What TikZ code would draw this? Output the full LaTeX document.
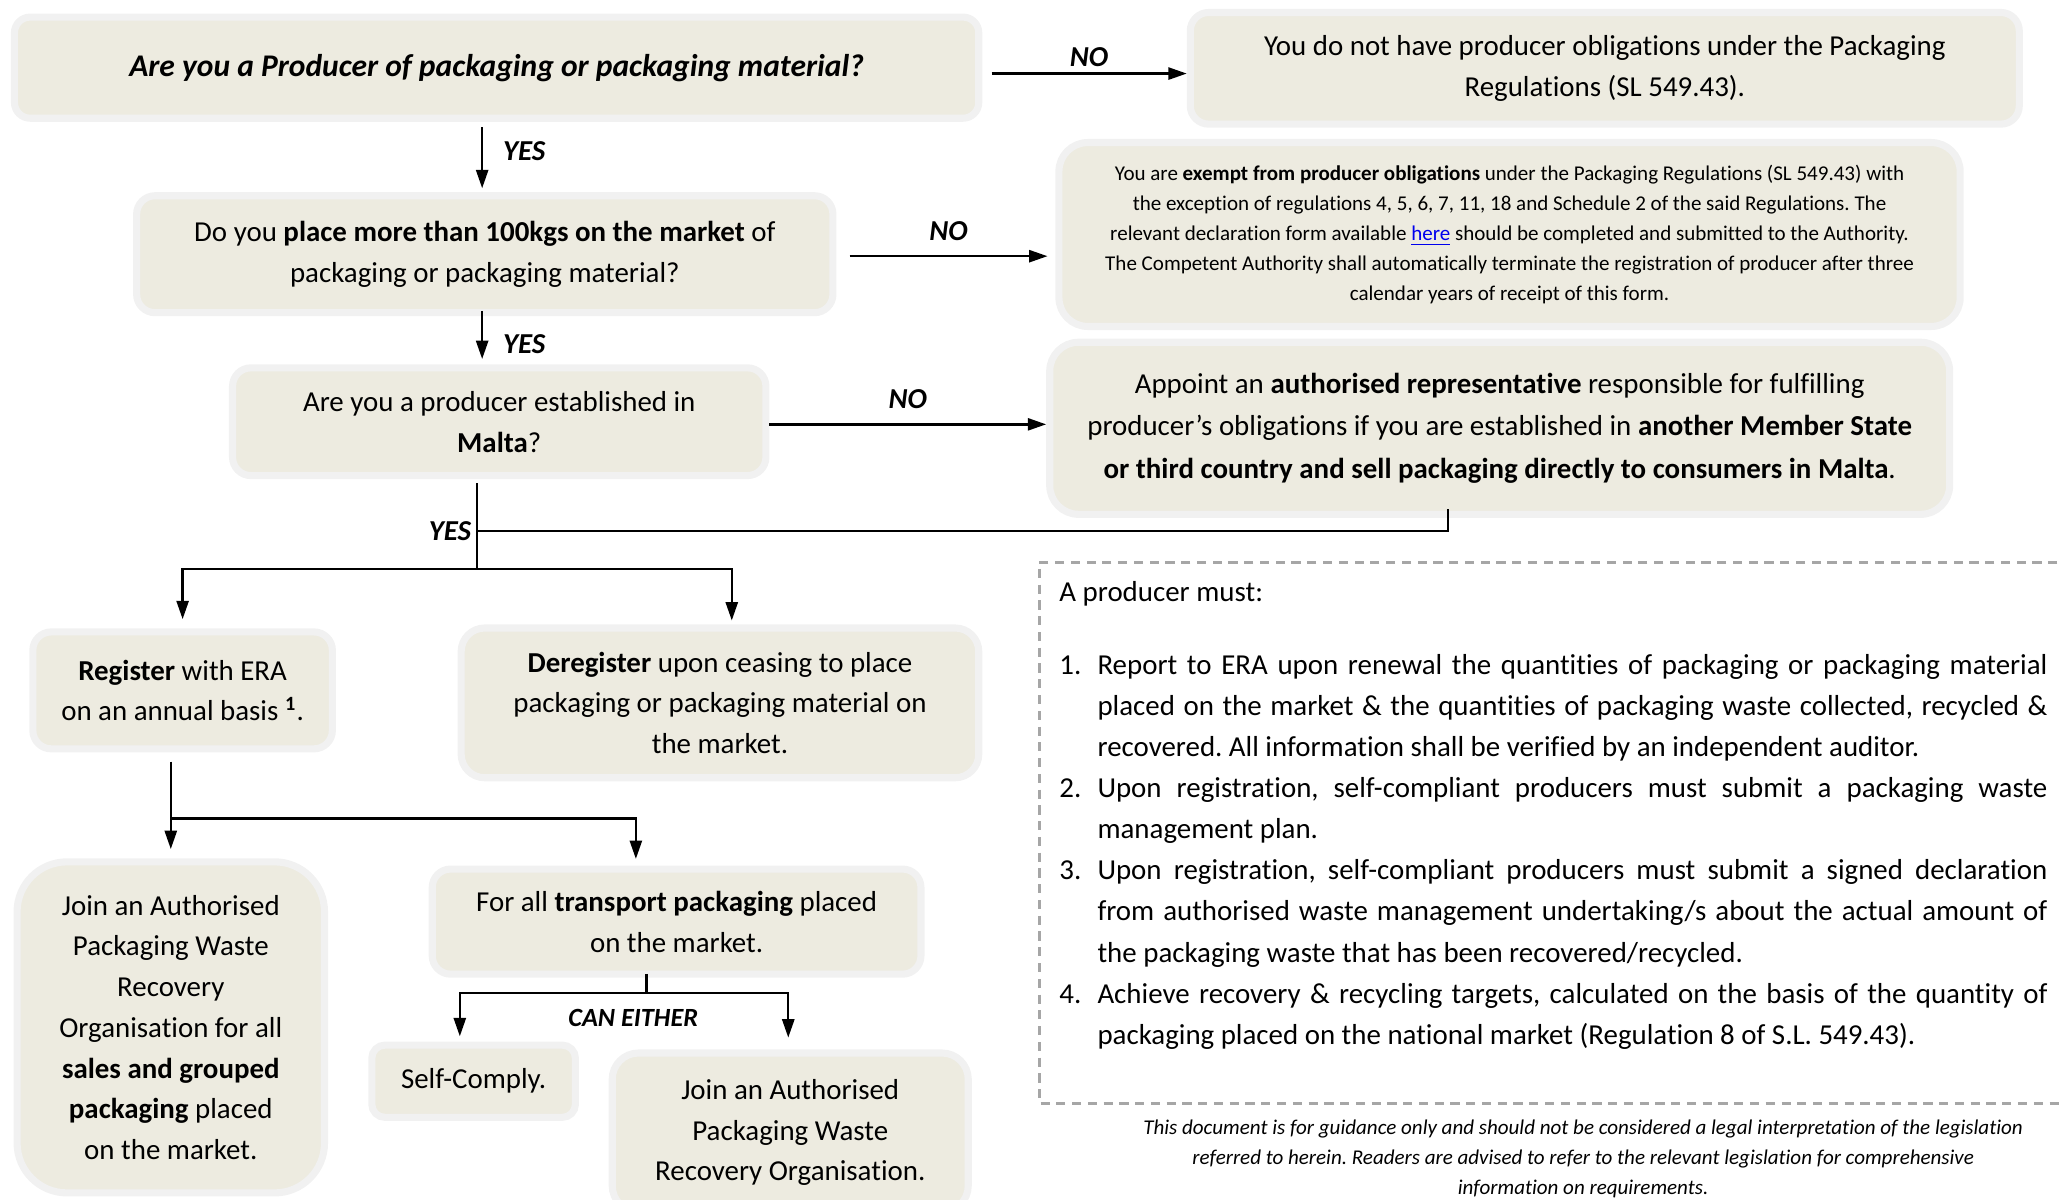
\documentclass[tikz,border=0pt]{standalone}
\usepackage{fontspec}
\setmainfont{Carlito}[Ligatures={TeX,NoCommon}]
\usetikzlibrary{arrows.meta}
\definecolor{boxfill}{RGB}{237,235,224}
\definecolor{boxedge}{RGB}{241,241,241}
\definecolor{dashgray}{RGB}{166,166,166}
\definecolor{linkblue}{RGB}{0,0,238}
\frenchspacing
\tikzset{
  pbox/.style={draw=boxedge, fill=boxfill, line width=2.7pt, align=center, inner sep=0pt, font=\fontsize{11}{15.5}\selectfont},
  answer/.style={font=\fontsize{11}{13}\selectfont\bfseries\itshape, inner sep=2pt},
  flow/.style={line width=0.9pt},
  mustbox/.style={draw=dashgray, line width=1pt, dash pattern=on 3.5pt off 2.5pt}
}

\begin{document}
\begin{tikzpicture}[x=0.5pt,y=-0.5pt,>={Triangle[length=7pt,width=4.6pt]}]
\useasboundingbox (0,0) rectangle (1568,913.4);
\clip (0,0) rectangle (1568,913.4);
% question boxes
\node [pbox, minimum width=367pt, minimum height=38.5pt, rounded corners=6pt, font=\fontsize{12}{15}\selectfont\bfseries\itshape] (producer) at (378,51.5) {Are you a Producer of packaging or packaging material?};
\node [pbox, minimum width=265pt, minimum height=44.5pt, rounded corners=7pt] (hundred) at (369,193.5) {Do you \textbf{place more than 100kgs on the market} of\\packaging or packaging material?};
\node [pbox, minimum width=203pt, minimum height=41pt, rounded corners=7pt] (malta) at (380,321) {Are you a producer established in\\\textbf{Malta}?};
% answer boxes
\node [pbox, minimum width=315.5pt, minimum height=42.5pt, rounded corners=7pt] (noobl) at (1221.5,52) {You do not have producer obligations under the Packaging\\Regulations (SL 549.43).};
\node [pbox, minimum width=343pt, minimum height=70pt, rounded corners=11pt, font=\fontsize{8}{11.5}\selectfont] (exempt) at (1149,178.5) {You are \textbf{exempt from producer obligations} under the Packaging Regulations (SL 549.43) with\\the exception of regulations 4, 5, 6, 7, 11, 18 and Schedule 2 of the said Regulations. The\\relevant declaration form available \textcolor{linkblue}{\underline{here}} should be completed and submitted to the Authority.\\The Competent Authority shall automatically terminate the registration of producer after three\\calendar years of receipt of this form.};
\node [pbox, minimum width=342.5pt, minimum height=65.5pt, rounded corners=11pt, font=\fontsize{11}{16}\selectfont] (authrep) at (1141.5,326) {Appoint an \textbf{authorised representative} responsible for fulfilling\\producer's obligations if you are established in \textbf{another Member State}\\\textbf{or third country and sell packaging directly to consumers in Malta}.};
\node [pbox, minimum width=114pt, minimum height=44.5pt, rounded corners=7pt] (register) at (139,525.5) {\textbf{Register} with ERA\\on an annual basis \textsuperscript{\textbf{1}}.};
\node [pbox, minimum width=197pt, minimum height=57pt, rounded corners=9pt] (dereg) at (548,535) {\textbf{Deregister} upon ceasing to place\\packaging or packaging material on\\the market.};
\node [pbox, minimum width=117pt, minimum height=126pt, rounded corners=19pt] (joinall) at (130,782) {Join an Authorised\\Packaging Waste\\Recovery\\Organisation for all\\\textbf{sales and grouped}\\\textbf{packaging} placed\\on the market.};
\node [pbox, minimum width=186pt, minimum height=40pt, rounded corners=7pt] (transport) at (515,701.5) {For all \textbf{transport packaging} placed\\on the market.};
\node [pbox, minimum width=77.5pt, minimum height=27.5pt, rounded corners=5pt] (selfcomply) at (360.5,823) {Self-Comply.};
\node [pbox, minimum width=135.5pt, minimum height=60.5pt, rounded corners=10pt] (joinpro) at (601.5,862) {Join an Authorised\\Packaging Waste\\Recovery Organisation.};
% connectors
\coordinate (yesjoin) at (363,404);
\coordinate (splitreg) at (363,433);
\coordinate (splitjoin) at (130,623);
\coordinate (eitherjoin) at (492,756);
\draw [flow,->] ([xshift=3.5pt,yshift=-2.25pt]producer.east) -- ([yshift=-2.25pt]producer.east -| noobl.west) node [answer, midway, above] {NO};
\draw [flow,->] ([xshift=5pt,yshift=-0.75pt]hundred.east) -- ([xshift=-3pt,yshift=-0.75pt]hundred.east -| exempt.west) node [answer, midway, above=3.5pt] {NO};
\draw [flow,->] ([yshift=-1pt]malta.east) -- ([yshift=-1pt]malta.east -| authrep.west) node [answer, midway, above=3.5pt] {NO};
\draw [flow,->] ([xshift=-1pt,yshift=-2pt]producer.south -| hundred.north) -- ([xshift=-1pt,yshift=1.5pt]hundred.north) node [answer, pos=0.4, right=5.5pt] {YES};
\draw [flow,->] ([xshift=-1pt,yshift=2pt]hundred.south) -- ([xshift=-1pt,yshift=2pt]hundred.south |- malta.north) node [answer, pos=0.7, right=5.5pt] {YES};
\draw [flow] ([yshift=-1.5pt]malta.south -| yesjoin) -- (splitreg);
\draw [flow] (yesjoin) -| ([xshift=-19.75pt,yshift=3.5pt]authrep.south);
\node [answer, anchor=east] (yeslabel) at (yesjoin) {YES};
\draw [flow,->] (splitreg) -| ([yshift=3.5pt]register.north);
\draw [flow,->] (splitreg) -| ([xshift=4.5pt,yshift=1.5pt]dereg.north);
\draw [flow,->] ([xshift=-4.5pt,yshift=-3.5pt]register.south) -- ([yshift=3.5pt]joinall.north);
\draw [flow,->] (splitjoin) -| ([xshift=-15.5pt,yshift=2.5pt]transport.north);
\draw [flow] ([xshift=-11.5pt,yshift=1.5pt]transport.south) -- (eitherjoin);
\draw [flow,->] (eitherjoin) -| ([xshift=-5.25pt,yshift=2pt]selfcomply.north);
\draw [flow,->] (eitherjoin) -| ([xshift=-0.75pt,yshift=4.5pt]joinpro.north);
\node [answer, font=\fontsize{10}{12}\selectfont\bfseries\itshape] (caneither) at (482,775) {CAN EITHER};
% obligations panel
\draw [mustbox] (1590,428) -- (791,428) -- (791,840) -- (1590,840);
\node [anchor=west, inner sep=0pt, font=\fontsize{11}{15.5}\selectfont] (musthead) at (806,452) {A producer must:};
\node [anchor=north west, inner sep=0pt, text width=376pt, align=justify, font=\fontsize{11}{15.65}\selectfont] (mustlist) at (806,497.5) {\hyphenpenalty=10000\exhyphenpenalty=10000%
\hangindent=14.5pt\hangafter=1\noindent\makebox[14.5pt][l]{1.}Report to ERA upon renewal the quantities of packaging or packaging material\linebreak placed on the market \& the quantities of packaging waste collected, recycled \&\linebreak recovered. All information shall be verified by an independent auditor.\par
\hangindent=14.5pt\hangafter=1\noindent\makebox[14.5pt][l]{2.}Upon registration, self-compliant producers must submit a packaging waste\linebreak management plan.\par
\hangindent=14.5pt\hangafter=1\noindent\makebox[14.5pt][l]{3.}Upon registration, self-compliant producers must submit a signed declaration\linebreak from authorised waste management undertaking/s about the actual amount of\linebreak the packaging waste that has been recovered/recycled.\par
\hangindent=14.5pt\hangafter=1\noindent\makebox[14.5pt][l]{4.}Achieve recovery \& recycling targets, calculated on the basis of the quantity of\linebreak packaging placed on the national market (Regulation 8 of S.L. 549.43).\par};
\node [align=center, inner sep=0pt, font=\fontsize{8}{11.5}\selectfont\itshape] (disclaimer) at (1205,882) {This document is for guidance only and should not be considered a legal interpretation of the legislation\\referred to herein. Readers are advised to refer to the relevant legislation for comprehensive\\information on requirements.};
\end{tikzpicture}
\end{document}
